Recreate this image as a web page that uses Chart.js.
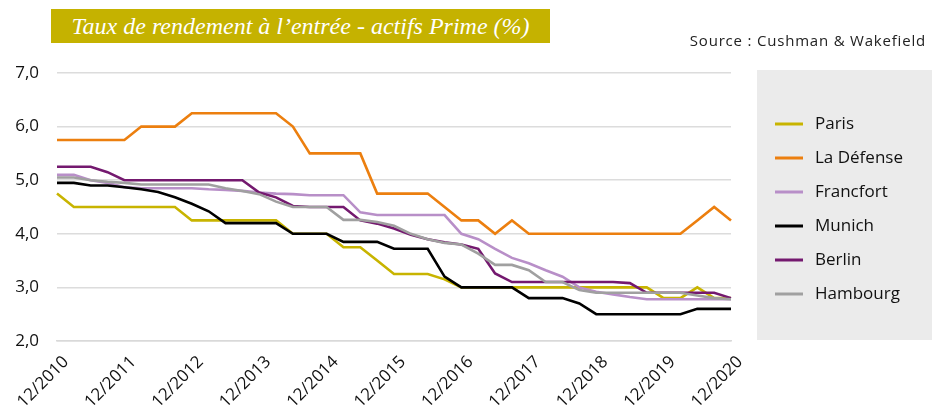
<!DOCTYPE html>
<html>
<head>
<meta charset="utf-8">
<script src="https://cdn.jsdelivr.net/npm/chart.js@4.4.0/dist/chart.umd.min.js"></script>
<style>
  html, body { margin: 0; padding: 0; background: #fff; }
  #wrap { position: relative; width: 941px; height: 405px; }
  #title {
    position: absolute; left: 51px; top: 9px; width: 499px; height: 34px;
    background: #c5b200; color: #fff; text-align: center;
    font: italic 24px 'Liberation Serif', serif; line-height: 34px;
  }
  #source {
    position: absolute; right: 15px; top: 30px;
    font: 15px 'Open Sans', sans-serif; color: #222; letter-spacing: 0.8px;
  }
</style>
</head>
<body>
<div id="wrap">
  <canvas id="yieldChart" width="941" height="405"></canvas>
  <div id="title">Taux de rendement à l’entrée - actifs Prime (%)</div>
  <div id="source">Source : Cushman &amp; Wakefield</div>
</div>
<script>
// quarters from 12/2010 to 12/2020
const categories = [
  '12/2010', '03/2011', '06/2011', '09/2011', '12/2011', '03/2012', '06/2012', '09/2012',
  '12/2012', '03/2013', '06/2013', '09/2013', '12/2013', '03/2014', '06/2014', '09/2014',
  '12/2014', '03/2015', '06/2015', '09/2015', '12/2015', '03/2016', '06/2016', '09/2016',
  '12/2016', '03/2017', '06/2017', '09/2017', '12/2017', '03/2018', '06/2018', '09/2018',
  '12/2018', '03/2019', '06/2019', '09/2019', '12/2019', '03/2020', '06/2020', '09/2020',
  '12/2020',
];
const tickLabels = ['12/2010', '12/2011', '12/2012', '12/2013', '12/2014', '12/2015',
  '12/2016', '12/2017', '12/2018', '12/2019', '12/2020'];

const paris = [4.75, 4.5, 4.5, 4.5, 4.5, 4.5, 4.5, 4.5, 4.25, 4.25, 4.25, 4.25, 4.25, 4.25,
  4.0, 4.0, 4.0, 3.75, 3.75, 3.5, 3.25, 3.25, 3.25, 3.15, 3.0, 3.0, 3.0, 3.0, 3.0, 3.0,
  3.0, 3.0, 3.0, 3.0, 3.0, 3.0, 2.8, 2.8, 3.0, 2.8, 2.8];
const laDefense = [5.75, 5.75, 5.75, 5.75, 5.75, 6.0, 6.0, 6.0, 6.25, 6.25, 6.25, 6.25, 6.25, 6.25,
  6.0, 5.5, 5.5, 5.5, 5.5, 4.75, 4.75, 4.75, 4.75, 4.5, 4.25, 4.25, 4.0, 4.25, 4.0, 4.0,
  4.0, 4.0, 4.0, 4.0, 4.0, 4.0, 4.0, 4.0, 4.25, 4.5, 4.25];
const francfort = [5.1, 5.1, 5.0, 4.95, 4.87, 4.85, 4.85, 4.85, 4.85, 4.83, 4.82, 4.8, 4.77, 4.75,
  4.74, 4.72, 4.72, 4.72, 4.4, 4.35, 4.35, 4.35, 4.35, 4.35, 4.0, 3.9, 3.72, 3.55, 3.45, 3.32,
  3.2, 3.0, 2.92, 2.87, 2.82, 2.78, 2.78, 2.78, 2.78, 2.78, 2.78];
const munich = [4.95, 4.95, 4.9, 4.9, 4.87, 4.83, 4.78, 4.68, 4.56, 4.42, 4.2, 4.2, 4.2, 4.2,
  4.0, 4.0, 4.0, 3.85, 3.85, 3.85, 3.72, 3.72, 3.72, 3.2, 3.0, 3.0, 3.0, 3.0, 2.8, 2.8,
  2.8, 2.7, 2.5, 2.5, 2.5, 2.5, 2.5, 2.5, 2.6, 2.6, 2.6];
const berlin = [5.25, 5.25, 5.25, 5.15, 5.0, 5.0, 5.0, 5.0, 5.0, 5.0, 5.0, 5.0, 4.77, 4.68,
  4.52, 4.5, 4.5, 4.5, 4.25, 4.19, 4.1, 3.98, 3.9, 3.84, 3.8, 3.72, 3.26, 3.1, 3.1, 3.1,
  3.1, 3.1, 3.1, 3.1, 3.08, 2.9, 2.9, 2.9, 2.9, 2.9, 2.8];
const hambourg = [5.05, 5.05, 5.0, 4.97, 4.95, 4.92, 4.92, 4.92, 4.92, 4.92, 4.85, 4.8, 4.74, 4.6,
  4.5, 4.5, 4.5, 4.26, 4.26, 4.22, 4.15, 4.0, 3.9, 3.83, 3.8, 3.63, 3.42, 3.42, 3.32, 3.1,
  3.1, 2.95, 2.9, 2.9, 2.9, 2.9, 2.9, 2.9, 2.85, 2.8, 2.78];

const seriesNames = ['Paris', 'La Défense', 'Francfort', 'Munich', 'Berlin', 'Hambourg'];
const seriesColors = ['#c8b400', '#ec7f0f', '#b88fc8', '#000000', '#74196f', '#a0a0a0'];
const seriesData = [paris, laDefense, francfort, munich, berlin, hambourg];

const FONT = "'Open Sans', sans-serif";

// grey legend box on the right
const legendBox = {
  id: 'legendBox',
  afterDraw(chart) {
    const ctx = chart.ctx;
    ctx.save();
    ctx.fillStyle = '#ebebeb';
    ctx.fillRect(757, 70, 175, 270);
    ctx.font = '17px ' + FONT;
    ctx.textBaseline = 'middle';
    chart.data.datasets.forEach((ds, i) => {
      const y = 124 + i * 34;
      ctx.strokeStyle = ds.borderColor;
      ctx.lineWidth = 3;
      ctx.beginPath();
      ctx.moveTo(775, y);
      ctx.lineTo(803, y);
      ctx.stroke();
      ctx.fillStyle = '#111';
      ctx.fillText(ds.label, 815, y);
    });
    ctx.restore();
  },
};

new Chart(document.getElementById('yieldChart'), {
  type: 'line',
  data: {
    labels: categories,
    datasets: seriesData.map((data, i) => ({
      label: seriesNames[i],
      data: data,
      borderColor: seriesColors[i],
      borderWidth: 2.6,
      pointRadius: 0,
      tension: 0,
      fill: false,
      order: seriesData.length - i,
    })),
  },
  options: {
    responsive: false,
    animation: false,
    layout: { padding: { top: 73, right: 210, left: 3, bottom: 0 } },
    plugins: {
      legend: { display: false },
      tooltip: { enabled: false },
    },
    scales: {
      x: {
        grid: { display: false },
        border: { display: true, color: '#d9d9d9', width: 1.5 },
        afterFit(scale) { scale.height = 64; },
        ticks: {
          autoSkip: false,
          maxRotation: 45,
          minRotation: 45,
          labelOffset: 9,
          color: '#111',
          font: { family: FONT, size: 17 },
          callback(value, index) {
            const label = categories[index];
            return tickLabels.includes(label) ? label : '';
          },
        },
      },
      y: {
        min: 2,
        max: 7,
        afterFit(scale) { scale.width = 54; },
        grid: { color: '#dcdcdc', lineWidth: 1.5, drawTicks: false },
        border: { display: false },
        ticks: {
          stepSize: 1,
          padding: 18,
          color: '#111',
          font: { family: FONT, size: 17 },
          callback: (v) => v.toFixed(1).replace('.', ','),
        },
      },
    },
  },
  plugins: [legendBox],
});
</script>
</body>
</html>
